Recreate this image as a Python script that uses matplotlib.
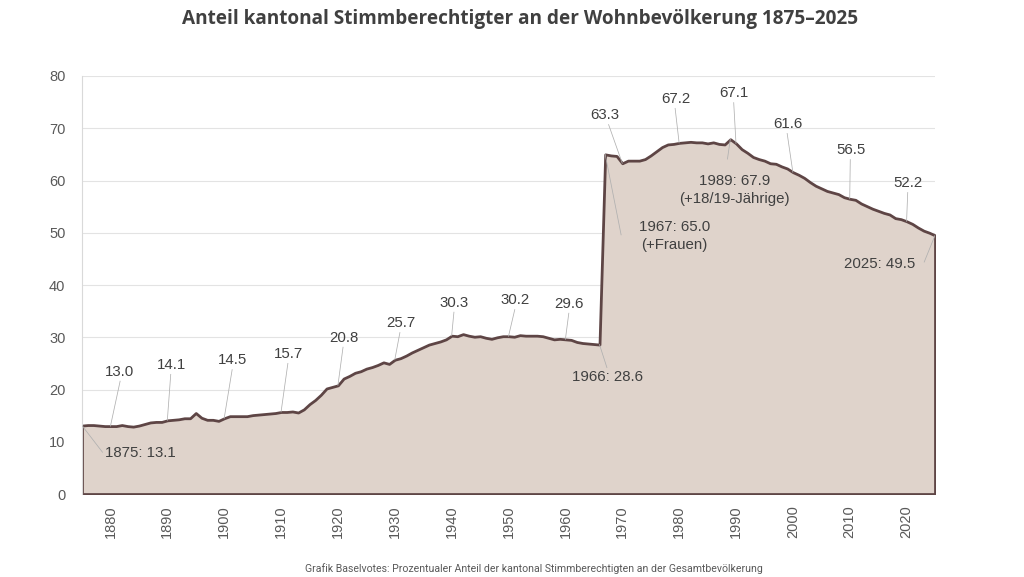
import numpy as np
import matplotlib.pyplot as plt

# Anteil Stimmberechtigte (%) pro Jahr, 1875-2025
years = np.arange(1875, 2026)
share = [
    13.1, 13.2, 13.2, 13.1, 13.0, 13.0, 13.0, 13.2, 13.0, 12.9,   # 1875-1884
    13.1, 13.4, 13.7, 13.8, 13.8, 14.1, 14.2, 14.3, 14.5, 14.5,   # 1885-1894
    15.5, 14.6, 14.2, 14.2, 14.0, 14.5, 14.9, 14.9, 14.9, 14.9,   # 1895-1904
    15.1, 15.2, 15.3, 15.4, 15.5, 15.7, 15.7, 15.8, 15.6, 16.2,   # 1905-1914
    17.2, 18.0, 19.0, 20.2, 20.5, 20.8, 22.1, 22.6, 23.2, 23.5,   # 1915-1924
    24.0, 24.3, 24.7, 25.2, 24.9, 25.7, 26.0, 26.5, 27.1, 27.6,   # 1925-1934
    28.1, 28.6, 28.9, 29.2, 29.6, 30.3, 30.2, 30.6, 30.3, 30.1,   # 1935-1944
    30.2, 29.9, 29.7, 30.0, 30.2, 30.2, 30.1, 30.4, 30.3, 30.3,   # 1945-1954
    30.3, 30.2, 29.9, 29.6, 29.7, 29.6, 29.5, 29.1, 28.9, 28.8,   # 1955-1964
    28.7, 28.6, 65.0, 64.8, 64.7, 63.3, 63.8, 63.8, 63.8, 64.1,   # 1965-1974
    64.8, 65.6, 66.4, 66.9, 67.0, 67.2, 67.3, 67.4, 67.3, 67.3,   # 1975-1984
    67.1, 67.3, 67.0, 66.9, 67.9, 67.1, 66.0, 65.3, 64.5, 64.1,   # 1985-1994
    63.8, 63.3, 63.2, 62.7, 62.3, 61.6, 61.1, 60.5, 59.7, 59.0,   # 1995-2004
    58.5, 58.0, 57.7, 57.4, 56.8, 56.5, 56.3, 55.6, 55.1, 54.6,   # 2005-2014
    54.2, 53.8, 53.5, 52.8, 52.6, 52.2, 51.7, 51.0, 50.4, 50.0,   # 2015-2024
    49.5,                                                         # 2025
]

# Beschriftete Jahre: (Jahr, Text, Textposition x, Textposition y, Ausrichtung)
labels = [
    (1875, "1875: 13.1", 1879.0, 7.9, "left"),
    (1880, "13.0", 1881.6, 23.3, "center"),
    (1890, "14.1", 1890.7, 24.7, "center"),
    (1900, "14.5", 1901.5, 25.6, "center"),
    (1910, "15.7", 1911.3, 26.8, "center"),
    (1920, "20.8", 1921.0, 29.9, "center"),
    (1930, "25.7", 1931.0, 32.7, "center"),
    (1940, "30.3", 1940.5, 36.6, "center"),
    (1950, "30.2", 1951.2, 37.1, "center"),
    (1960, "29.6", 1960.7, 36.4, "center"),
    (1966, "1966: 28.6", 1967.4, 22.4, "center"),
    (1970, "63.3", 1966.9, 72.5, "center"),
    (1980, "67.2", 1979.4, 75.6, "center"),
    (1990, "67.1", 1989.7, 76.7, "center"),
    (2000, "61.6", 1999.1, 70.8, "center"),
    (2010, "56.5", 2010.2, 65.8, "center"),
    (2020, "52.2", 2020.3, 59.5, "center"),
    (1967, "1967: 65.0\n(+Frauen)", 1979.2, 49.4, "center"),
    (1989, "1989: 67.9\n(+18/19-Jährige)", 1989.7, 58.2, "center"),
    (2025, "2025: 49.5", 2015.3, 44.0, "center"),
]

# Endpunkte der Hinweislinien (Textseite)
leaders = {
    1875: (1878.6, 8.0), 1880: (1881.7, 21.6), 1890: (1890.6, 22.9),
    1900: (1901.4, 23.8), 1910: (1911.2, 25.0), 1920: (1920.9, 28.1),
    1930: (1930.9, 30.9), 1940: (1940.4, 34.8), 1950: (1951.1, 35.3),
    1960: (1960.6, 34.6), 1966: (1967.3, 24.2), 1970: (1967.6, 70.7),
    1980: (1979.3, 73.8), 1990: (1989.6, 74.9), 2000: (1999.0, 69.0),
    2010: (2010.1, 64.0), 2020: (2020.2, 57.7), 1967: (1969.8, 49.6),
    1989: (1988.5, 64.1), 2025: (2023.1, 44.4),
}

line_col = "#5e4545"
fill_col = "#dfd3cb"
text_col = "#404040"

fig = plt.figure(figsize=(10.24, 5.77), dpi=100)
ax = fig.add_axes([0.0801, 0.1438, 0.8330, 0.7245])

ax.fill_between(years, share, 0, facecolor=fill_col, edgecolor=line_col,
                linewidth=2.0, zorder=2)

lookup = dict(zip(years, share))
for yr, txt, tx, ty, ha in labels:
    ax.text(tx, ty, txt, ha=ha, va="center", fontsize=10.8, color=text_col,
            family="Liberation Sans", zorder=4, linespacing=1.35)

for yr, (lx, ly) in leaders.items():
    ax.plot([lx, yr], [ly, lookup[yr]], color="#b0b0b0", lw=0.55, zorder=3)

ax.set_xlim(1875, 2025)
ax.set_ylim(0, 80)
ax.set_yticks(np.arange(0, 81, 10))
ax.set_xticks(np.arange(1880, 2021, 10))
ax.tick_params(axis="both", length=0, labelsize=10.5, labelcolor="#595959")
ax.tick_params(axis="y", pad=12)
ax.tick_params(axis="x", pad=8)
for lab in ax.get_xticklabels():
    lab.set_rotation(90)
    lab.set_family("Liberation Sans")
for lab in ax.get_yticklabels():
    lab.set_family("Liberation Sans")

ax.grid(axis="y", color="#e3e3e3", lw=0.8, zorder=1)
ax.set_axisbelow(True)
for side in ["top", "right", "bottom"]:
    ax.spines[side].set_visible(False)
ax.spines["left"].set_color("#d9d9d9")
ax.spines["left"].set_linewidth(0.8)

fig.text(0.508, 0.967, "Anteil kantonal Stimmberechtigter an der Wohnbevölkerung 1875–2025",
         ha="center", va="center", fontsize=13.7, fontweight="bold", color=text_col,
         family="Open Sans")
fig.text(0.521, 0.015,
         "Grafik Baselvotes: Prozentualer Anteil der kantonal Stimmberechtigten an der Gesamtbevölkerung",
         ha="center", va="center", fontsize=7.6, color="#595959",
         family=["Roboto", "DejaVu Sans"])

fig.savefig("out.png", dpi=100)
